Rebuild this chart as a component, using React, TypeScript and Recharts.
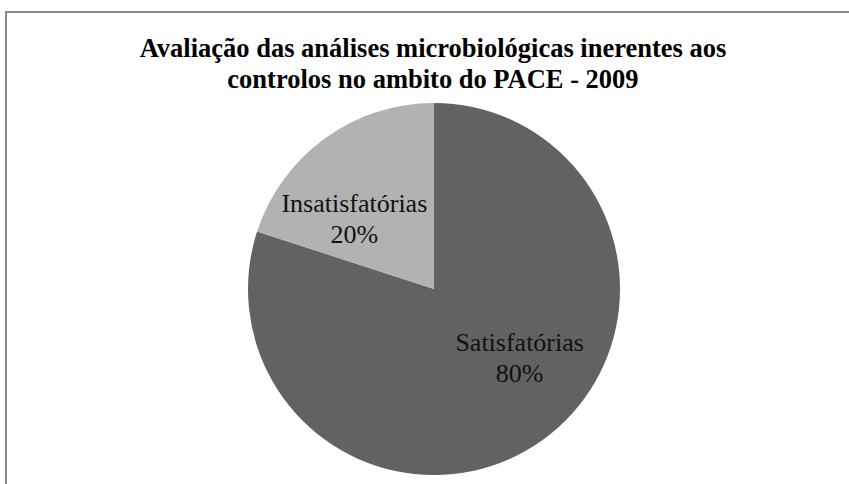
import { PieChart, Pie, Cell } from "recharts";

const categories = ["Satisfatórias", "Insatisfatórias"];
const percentages = [80, 20];
const titleLines = [
  "Avaliação das análises microbiológicas inerentes aos",
  "controlos no ambito do PACE - 2009",
];

const sliceColors = ["#626262", "#b2b2b2"];
const serif = "Liberation Serif, Tinos, Times New Roman, DejaVu Serif, serif";

const chartData = categories.map((name, i) => ({ name, value: percentages[i] }));

const RAD = Math.PI / 180;

// Excel's "best fit" placement sits a little counter-clockwise from the slice middle
function renderLabel(props: any) {
  const { cx, cy, midAngle, outerRadius, name, value } = props;
  const a = (midAngle + 14) * RAD;
  const r = outerRadius * 0.58;
  const x = cx + r * Math.cos(a) + 3;
  const y = cy - r * Math.sin(a);
  return (
    <text
      x={x}
      y={y}
      textAnchor="middle"
      fill="#111"
      style={{ fontFamily: serif, fontSize: 26 }}
    >
      <tspan x={x} y={y - 16} dominantBaseline="central">
        {name}
      </tspan>
      <tspan x={x} y={y + 15} dominantBaseline="central">
        {value}%
      </tspan>
    </text>
  );
}

export default function App() {
  return (
    <div
      style={{
        position: "absolute",
        left: 0,
        top: 0,
        width: 849,
        height: 484,
        overflow: "hidden",
        background: "#fff",
      }}
    >
      <div
        style={{
          position: "absolute",
          left: 5,
          top: 11,
          width: 900,
          height: 520,
          border: "2px solid #8a8a8a",
        }}
      />
      <div
        style={{
          position: "absolute",
          left: 0,
          top: 33,
          width: 866,
          textAlign: "center",
          fontFamily: serif,
          fontWeight: "bold",
          fontSize: 26.5,
          lineHeight: "31px",
          color: "#000",
        }}
      >
        {titleLines.map((t) => (
          <div key={t}>{t}</div>
        ))}
      </div>
      <div style={{ position: "absolute", left: 0, top: 0 }}>
        <PieChart
          width={849}
          height={484}
          margin={{ top: 0, right: 0, bottom: 0, left: 0 }}
        >
          <Pie
            data={chartData}
            dataKey="value"
            nameKey="name"
            cx={434}
            cy={289}
            outerRadius={186}
            startAngle={90}
            endAngle={-270}
            stroke="none"
            label={renderLabel}
            labelLine={false}
            isAnimationActive={false}
          >
            {chartData.map((d, i) => (
              <Cell key={d.name} fill={sliceColors[i]} />
            ))}
          </Pie>
        </PieChart>
      </div>
    </div>
  );
}
